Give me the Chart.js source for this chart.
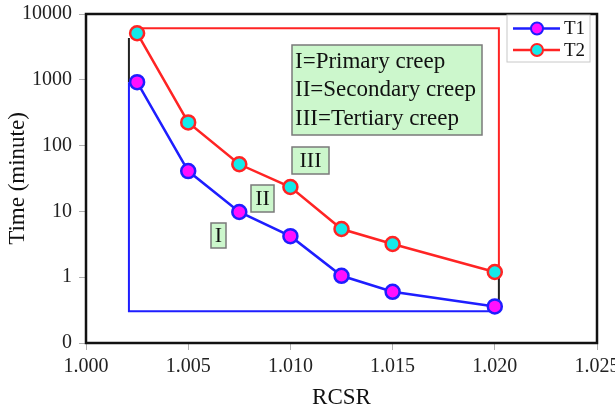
<!DOCTYPE html>
<html>
<head>
<meta charset="utf-8">
<script src="https://cdn.jsdelivr.net/npm/chart.js@4.4.1/dist/chart.umd.min.js"></script>
<style>
  html, body { margin: 0; padding: 0; background: #fff; }
  #wrap { width: 615px; height: 412px; }
</style>
</head>
<body>
<div id="wrap"><canvas id="creepChart"></canvas></div>
<script>
// RCSR values and creep times
const rcsr = [1.0025, 1.005, 1.0075, 1.010, 1.0125, 1.015, 1.020];
const timeT1 = [920, 41, 9.8, 4.2, 1.05, 0.6, 0.36];
const timeT2 = [5100, 225, 52, 23.5, 5.4, 3.2, 1.2];
const yTickValues = [0.1, 1, 10, 100, 1000, 10000];

// outline lines that close the two curves
const blueEdgeX = [1.0021, 1.0021, 1.0202, 1.0202];
const blueEdgeY = [920, 0.305, 0.305, 0.36];
const redEdgeX = [1.0025, 1.0202, 1.0202];
const redEdgeY = [6100, 6100, 1.2];
const blackLeftX = [1.0021, 1.0021];
const blackLeftY = [4300, 920];
const blackRightX = [1.0202, 1.0202];
const blackRightY = [1.2, 0.36];

const stageNotes = ["I=Primary creep", "II=Secondary creep", "III=Tertiary creep"];
const stageTags = ["I", "II", "III"];

const BLUE = "#1e1eff";
const RED = "#ff2424";
const MAGENTA = "#ff10ff";
const CYAN = "#14eaea";
const GREEN_BOX = "#ccf7cc";
const SERIF = "'Liberation Serif', 'Times New Roman', serif";

const toPoints = (xs, ys) => xs.map((x, i) => ({ x, y: ys[i] }));

function edgeDataset(xs, ys, color) {
  return {
    label: "",
    data: toPoints(xs, ys),
    borderColor: color,
    borderWidth: 2,
    pointRadius: 0,
    tension: 0,
    order: 3
  };
}

// frame, stage boxes and legend
const decorPlugin = {
  id: "decor",
  beforeDatasetsDraw(chart) {
    const { ctx, chartArea: a } = chart;
    ctx.save();
    ctx.strokeStyle = "#111";
    ctx.lineWidth = 2.5;
    ctx.strokeRect(a.left, a.top, a.right - a.left, a.bottom - a.top);
    ctx.restore();
  },
  afterDatasetsDraw(chart) {
    const { ctx, chartArea: a } = chart;
    const L = a.left, T = a.top;
    ctx.save();

    function box(x, y, w, h) {
      ctx.fillStyle = GREEN_BOX;
      ctx.fillRect(x, y, w, h);
      ctx.strokeStyle = "#7a7a7a";
      ctx.lineWidth = 1.5;
      ctx.strokeRect(x, y, w, h);
    }

    // note box
    box(L + 206, T + 31, 190, 90);
    ctx.fillStyle = "#111";
    ctx.font = "23px " + SERIF;
    ctx.textAlign = "left";
    ctx.textBaseline = "middle";
    stageNotes.forEach((s, i) => ctx.fillText(s, L + 209, T + 48 + i * 28.3));

    // stage tags
    const tags = [
      { x: 125, y: 209, w: 15, h: 25 },
      { x: 165, y: 171, w: 23, h: 27 },
      { x: 206, y: 133, w: 37, h: 27 }
    ];
    ctx.font = "22px " + SERIF;
    ctx.textAlign = "center";
    tags.forEach((t, i) => {
      box(L + t.x, T + t.y, t.w, t.h);
      ctx.fillStyle = "#111";
      ctx.fillText(stageTags[i], L + t.x + t.w / 2, T + t.y + t.h / 2 + 1);
    });

    // legend
    const lx = a.right - 90, ly = T + 1;
    ctx.fillStyle = "#fff";
    ctx.fillRect(lx, ly, 83, 47);
    ctx.strokeStyle = "#c8c8c8";
    ctx.lineWidth = 1;
    ctx.strokeRect(lx, ly, 83, 47);
    const items = [chart.data.datasets[0], chart.data.datasets[1]];
    items.forEach((ds, i) => {
      const y = ly + 13.5 + i * 21.5;
      ctx.strokeStyle = ds.borderColor;
      ctx.lineWidth = 2.5;
      ctx.beginPath();
      ctx.moveTo(lx + 6, y);
      ctx.lineTo(lx + 53, y);
      ctx.stroke();
      ctx.beginPath();
      ctx.arc(lx + 30, y, 6, 0, Math.PI * 2);
      ctx.fillStyle = ds.pointBackgroundColor;
      ctx.fill();
      ctx.lineWidth = 2;
      ctx.stroke();
      ctx.fillStyle = "#111";
      ctx.font = "19px " + SERIF;
      ctx.textAlign = "left";
      ctx.fillText(ds.label, lx + 57, y + 1);
    });
    ctx.restore();
  }
};

new Chart(document.getElementById("creepChart"), {
  type: "line",
  data: {
    datasets: [
      {
        label: "T1",
        data: toPoints(rcsr, timeT1),
        borderColor: BLUE,
        borderWidth: 2.5,
        pointRadius: 7,
        pointBorderWidth: 2.5,
        pointBackgroundColor: MAGENTA,
        pointBorderColor: BLUE,
        tension: 0,
        order: 1
      },
      {
        label: "T2",
        data: toPoints(rcsr, timeT2),
        borderColor: RED,
        borderWidth: 2.5,
        pointRadius: 7,
        pointBorderWidth: 2.5,
        pointBackgroundColor: CYAN,
        pointBorderColor: RED,
        tension: 0,
        order: 2
      },
      edgeDataset(blueEdgeX, blueEdgeY, BLUE),
      edgeDataset(redEdgeX, redEdgeY, RED),
      edgeDataset(blackLeftX, blackLeftY, "#222"),
      edgeDataset(blackRightX, blackRightY, "#222")
    ]
  },
  options: {
    responsive: true,
    maintainAspectRatio: false,
    animation: false,
    layout: { padding: { left: 0, top: 14, right: 18, bottom: 0 } },
    plugins: {
      legend: { display: false },
      tooltip: { enabled: false }
    },
    scales: {
      x: {
        type: "linear",
        min: 1.0,
        max: 1.025,
        border: { display: false },
        grid: { drawOnChartArea: false, drawTicks: true, tickLength: 7, color: "#b0b0b0" },
        ticks: {
          stepSize: 0.005,
          padding: 5,
          color: "#222",
          maxRotation: 0,
          font: { family: SERIF, size: 20 },
          callback: (v) => Number(v).toFixed(3)
        },
        title: {
          display: true,
          text: "RCSR",
          color: "#111",
          padding: { top: 0, bottom: 0 },
          font: { family: SERIF, size: 23 }
        },
        afterFit: (s) => { s.height = 69; s.paddingLeft = 0; s.paddingRight = 0; }
      },
      y: {
        type: "logarithmic",
        min: 0.1,
        max: 10000,
        border: { display: false },
        grid: { drawOnChartArea: false, drawTicks: true, tickLength: 7, color: "#b0b0b0" },
        afterBuildTicks: (axis) => { axis.ticks = yTickValues.map((v) => ({ value: v })); },
        ticks: {
          padding: 7,
          color: "#222",
          font: { family: SERIF, size: 20 },
          callback: (v) => (v < 1 ? "0" : String(v))
        },
        title: {
          display: true,
          text: "Time (minute)",
          color: "#111",
          padding: { top: 4, bottom: 0 },
          font: { family: SERIF, size: 23 }
        },
        afterFit: (s) => { s.width = 86; s.paddingTop = 0; s.paddingBottom = 0; }
      }
    }
  },
  plugins: [decorPlugin]
});
</script>
</body>
</html>
